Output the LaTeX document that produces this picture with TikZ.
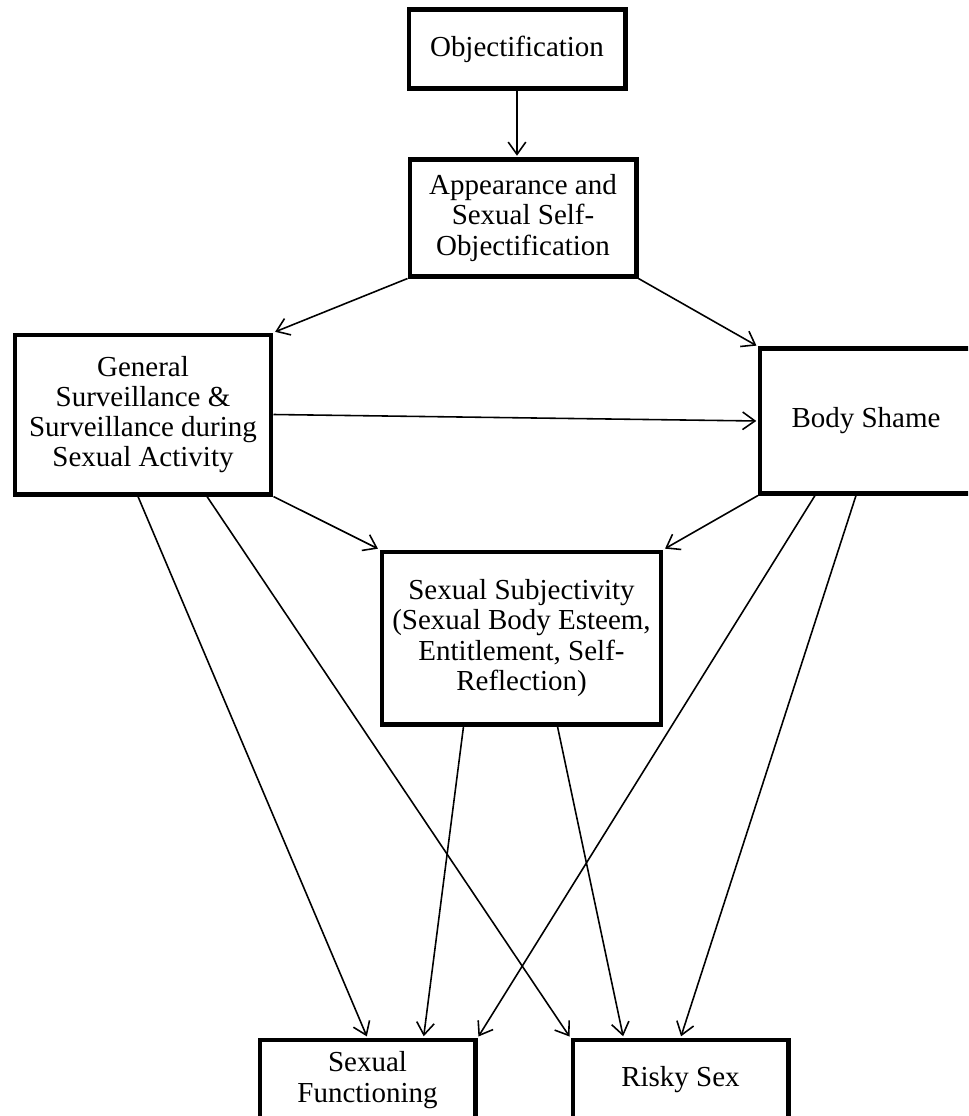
\documentclass[tikz,border=0pt]{standalone}
\usepackage{fontspec}
\setmainfont{Liberation Serif}
\usetikzlibrary{calc, arrows.meta}

\begin{document}
\begin{tikzpicture}[x=0.02cm, y=-0.02cm,
  >={Straight Barb[length=7pt,width=10pt]},
  box/.style={draw, line width=2.3pt, align=center, inner sep=2pt,
    font=\fontsize{16.5}{17.2}\selectfont},
  link/.style={->, line width=0.9pt, shorten >=1pt}]
  \useasboundingbox (0,0) rectangle (968,1116);
  \fill[white] (0,0) rectangle (968,1116);
  \clip (0,0) rectangle (968,1116);

  % boxes
  \node[box, minimum width=4.34cm, minimum height=1.58cm] (obj) at (517,49) {Objectification};
  \node[box, minimum width=4.54cm, minimum height=2.34cm] (app) at (523,218)
    {Appearance and\\Sexual Self-\\Objectification};
  \node[box, minimum width=5.14cm, minimum height=3.2cm] (gen) at (143,414.5)
    {General\\Surveillance \&\\Surveillance during\\Sexual Activity};
  \node[box, minimum width=4.24cm, minimum height=2.9cm] (shame) at (866,421) {Body Shame};
  \node[box, minimum width=5.6cm, minimum height=3.46cm] (subj) at (521.5,638)
    {Sexual Subjectivity\\(Sexual Body Esteem,\\Entitlement, Self-\\Reflection)};
  \node[box, minimum width=4.32cm, minimum height=1.6cm] (func) at (367.5,1080)
    {Sexual\\Functioning};
  \node[box, minimum width=4.32cm, minimum height=1.6cm] (risky) at (680.5,1080) {Risky Sex};

  % paths
  \draw[link] (obj.south) -- (obj.south |- app.north);
  \draw[link] (app.south west) -- (gen.north east);
  \draw[link] (app.south east) -- (shame.north west);
  \draw[link] (gen.east) -- (shame.west);
  \draw[link] (gen.south east) -- (subj.north west);
  \draw[link] (shame.south west) -- (subj.north east);
  \draw[link] ($(gen.south)+(-5,0)$) -- (func.north);
  \draw[link] ($(gen.south)+(64,0)$) -- (risky.north west);
  \draw[link] ($(subj.south)+(-58,0)$) -- ($(func.north)+(56,0)$);
  \draw[link] ($(subj.south)+(36,0)$) -- ($(risky.north)+(-57,0)$);
  \draw[link] ($(shame.south)+(-51,0)$) -- (func.north east);
  \draw[link] ($(shame.south)+(-10,0)$) -- (risky.north);
\end{tikzpicture}
\end{document}
